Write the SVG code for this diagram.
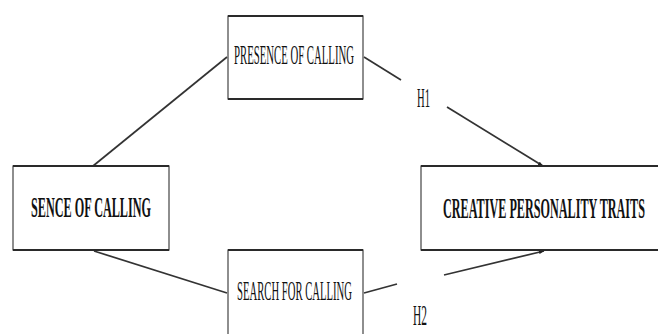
<svg xmlns="http://www.w3.org/2000/svg" width="658" height="334" viewBox="0 0 658 334">
<defs>
<style>
.box{fill:#fff;stroke:#444;stroke-width:1.2}
.edge{stroke:#2a2a2a;stroke-width:1.8}
.conn{fill:none;stroke:#333;stroke-width:1.7}
.t{font-family:"Liberation Serif","Times New Roman",serif;fill:#111}
.b{font-weight:bold}
</style>
<marker id="arr" viewBox="0 0 10 10" refX="10" refY="5" markerWidth="5" markerHeight="5" orient="auto" markerUnits="userSpaceOnUse">
<path d="M0,1 L10,5 L0,9 z" fill="#222"/>
</marker>
</defs>
<rect width="658" height="334" fill="#fff"/>
<g id="connectors">
<line class="conn" x1="93" y1="166" x2="227" y2="57"/>
<line class="conn" x1="364" y1="57" x2="401" y2="80"/>
<line class="conn" x1="447" y1="107" x2="543" y2="166" marker-end="url(#arr)"/>
<line class="conn" x1="94" y1="251" x2="227" y2="293"/>
<line class="conn" x1="364" y1="293" x2="397" y2="284"/>
<line class="conn" x1="444" y1="275" x2="544" y2="251" marker-end="url(#arr)"/>
<text class="t" x="417" y="107" font-size="27" textLength="13" lengthAdjust="spacingAndGlyphs">H1</text>
<text class="t" x="413" y="325" font-size="29" textLength="14" lengthAdjust="spacingAndGlyphs">H2</text>
</g>
<g id="presence">
<rect class="box" x="228" y="16" width="135" height="83"/>
<line class="edge" x1="228" y1="16" x2="363" y2="16"/>
<line class="edge" x1="228" y1="99" x2="363" y2="99"/>
<text class="t" x="234" y="64" font-size="27" textLength="120" lengthAdjust="spacingAndGlyphs">PRESENCE OF CALLING</text>
</g>
<g id="sence">
<rect class="box" x="13" y="166" width="156" height="84"/>
<line class="edge" x1="13" y1="166" x2="169" y2="166"/>
<line class="edge" x1="13" y1="250" x2="169" y2="250"/>
<text class="t b" x="31" y="217" font-size="30" textLength="120" lengthAdjust="spacingAndGlyphs">SENCE OF CALLING</text>
</g>
<g id="creative">
<rect class="box" x="421" y="166" width="245" height="84"/>
<line class="edge" x1="421" y1="166" x2="658" y2="166"/>
<line class="edge" x1="421" y1="250" x2="658" y2="250"/>
<text class="t b" x="443" y="218" font-size="30" textLength="202" lengthAdjust="spacingAndGlyphs">CREATIVE PERSONALITY TRAITS</text>
</g>
<g id="search">
<rect class="box" x="228" y="250" width="135" height="95"/>
<line class="edge" x1="228" y1="250" x2="363" y2="250"/>
<text class="t" x="237" y="300" font-size="28" textLength="115" lengthAdjust="spacingAndGlyphs">SEARCH FOR CALLING</text>
</g>
</svg>
